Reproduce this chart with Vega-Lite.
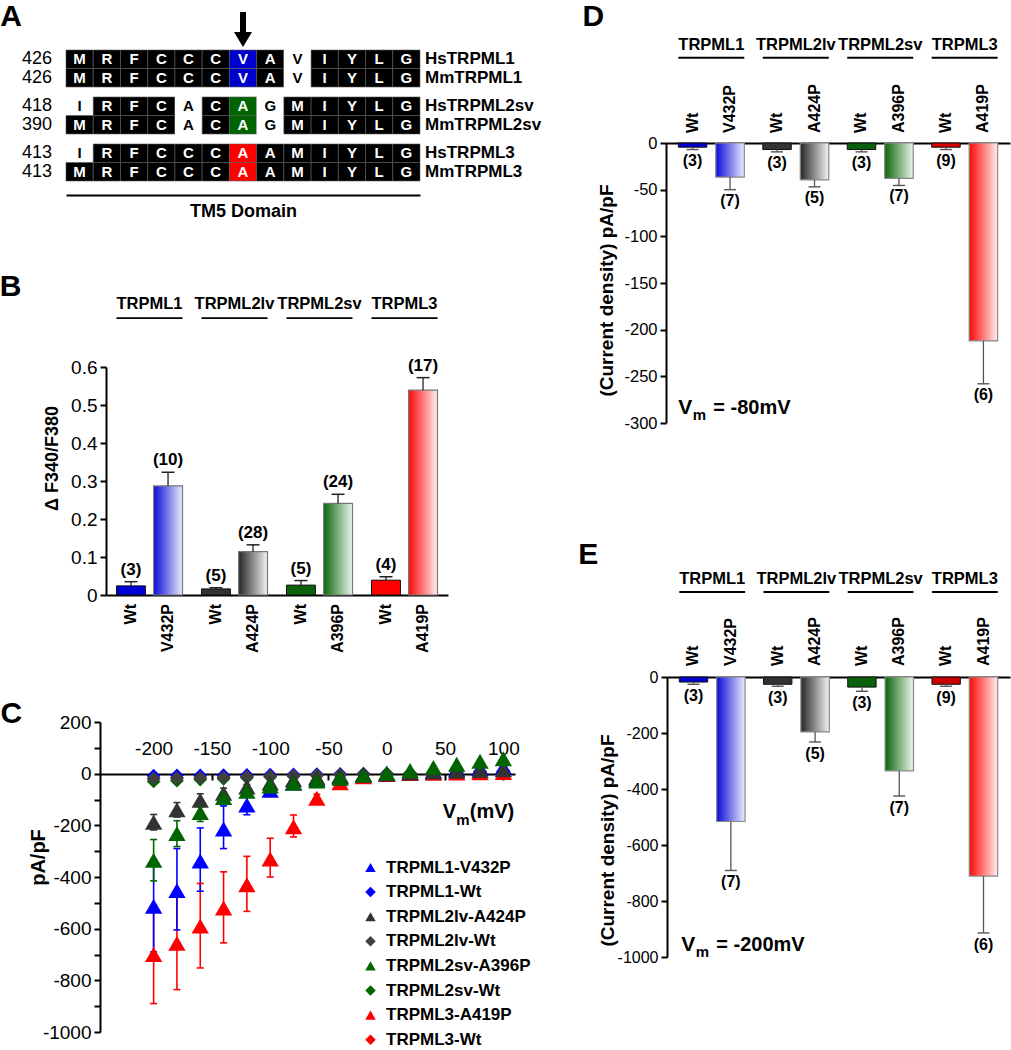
{
"$schema":"https://vega.github.io/schema/vega-lite/v6.json",
"width":1011,"height":1050,"autosize":"none","padding":0,"background":"white",
"config":{"view":{"stroke":null},"font":"Liberation Sans",
 "axis":{"grid":false,"labelOverlap":false,"labelFlush":false,"domainColor":"black","tickColor":"black","labelColor":"black","titleColor":"black"}},
"datasets":{
 "aln":[
  {"g":"TRPML1","s":"Hs","c":0,"a":"M","k":"m"},{"g":"TRPML1","s":"Hs","c":1,"a":"R","k":"m"},{"g":"TRPML1","s":"Hs","c":2,"a":"F","k":"m"},{"g":"TRPML1","s":"Hs","c":3,"a":"C","k":"m"},{"g":"TRPML1","s":"Hs","c":4,"a":"C","k":"m"},{"g":"TRPML1","s":"Hs","c":5,"a":"C","k":"m"},{"g":"TRPML1","s":"Hs","c":6,"a":"V","k":"s1"},{"g":"TRPML1","s":"Hs","c":7,"a":"A","k":"m"},{"g":"TRPML1","s":"Hs","c":8,"a":"V","k":"x"},{"g":"TRPML1","s":"Hs","c":9,"a":"I","k":"m"},{"g":"TRPML1","s":"Hs","c":10,"a":"Y","k":"m"},{"g":"TRPML1","s":"Hs","c":11,"a":"L","k":"m"},{"g":"TRPML1","s":"Hs","c":12,"a":"G","k":"m"},
  {"g":"TRPML1","s":"Mm","c":0,"a":"M","k":"m"},{"g":"TRPML1","s":"Mm","c":1,"a":"R","k":"m"},{"g":"TRPML1","s":"Mm","c":2,"a":"F","k":"m"},{"g":"TRPML1","s":"Mm","c":3,"a":"C","k":"m"},{"g":"TRPML1","s":"Mm","c":4,"a":"C","k":"m"},{"g":"TRPML1","s":"Mm","c":5,"a":"C","k":"m"},{"g":"TRPML1","s":"Mm","c":6,"a":"V","k":"s1"},{"g":"TRPML1","s":"Mm","c":7,"a":"A","k":"m"},{"g":"TRPML1","s":"Mm","c":8,"a":"V","k":"x"},{"g":"TRPML1","s":"Mm","c":9,"a":"I","k":"m"},{"g":"TRPML1","s":"Mm","c":10,"a":"Y","k":"m"},{"g":"TRPML1","s":"Mm","c":11,"a":"L","k":"m"},{"g":"TRPML1","s":"Mm","c":12,"a":"G","k":"m"},
  {"g":"TRPML2sv","s":"Hs","c":0,"a":"I","k":"x"},{"g":"TRPML2sv","s":"Hs","c":1,"a":"R","k":"m"},{"g":"TRPML2sv","s":"Hs","c":2,"a":"F","k":"m"},{"g":"TRPML2sv","s":"Hs","c":3,"a":"C","k":"m"},{"g":"TRPML2sv","s":"Hs","c":4,"a":"A","k":"x"},{"g":"TRPML2sv","s":"Hs","c":5,"a":"C","k":"m"},{"g":"TRPML2sv","s":"Hs","c":6,"a":"A","k":"s2"},{"g":"TRPML2sv","s":"Hs","c":7,"a":"G","k":"x"},{"g":"TRPML2sv","s":"Hs","c":8,"a":"M","k":"m"},{"g":"TRPML2sv","s":"Hs","c":9,"a":"I","k":"m"},{"g":"TRPML2sv","s":"Hs","c":10,"a":"Y","k":"m"},{"g":"TRPML2sv","s":"Hs","c":11,"a":"L","k":"m"},{"g":"TRPML2sv","s":"Hs","c":12,"a":"G","k":"m"},
  {"g":"TRPML2sv","s":"Mm","c":0,"a":"M","k":"m"},{"g":"TRPML2sv","s":"Mm","c":1,"a":"R","k":"m"},{"g":"TRPML2sv","s":"Mm","c":2,"a":"F","k":"m"},{"g":"TRPML2sv","s":"Mm","c":3,"a":"C","k":"m"},{"g":"TRPML2sv","s":"Mm","c":4,"a":"A","k":"x"},{"g":"TRPML2sv","s":"Mm","c":5,"a":"C","k":"m"},{"g":"TRPML2sv","s":"Mm","c":6,"a":"A","k":"s2"},{"g":"TRPML2sv","s":"Mm","c":7,"a":"G","k":"x"},{"g":"TRPML2sv","s":"Mm","c":8,"a":"M","k":"m"},{"g":"TRPML2sv","s":"Mm","c":9,"a":"I","k":"m"},{"g":"TRPML2sv","s":"Mm","c":10,"a":"Y","k":"m"},{"g":"TRPML2sv","s":"Mm","c":11,"a":"L","k":"m"},{"g":"TRPML2sv","s":"Mm","c":12,"a":"G","k":"m"},
  {"g":"TRPML3","s":"Hs","c":0,"a":"I","k":"x"},{"g":"TRPML3","s":"Hs","c":1,"a":"R","k":"m"},{"g":"TRPML3","s":"Hs","c":2,"a":"F","k":"m"},{"g":"TRPML3","s":"Hs","c":3,"a":"C","k":"m"},{"g":"TRPML3","s":"Hs","c":4,"a":"C","k":"m"},{"g":"TRPML3","s":"Hs","c":5,"a":"C","k":"m"},{"g":"TRPML3","s":"Hs","c":6,"a":"A","k":"s3"},{"g":"TRPML3","s":"Hs","c":7,"a":"A","k":"m"},{"g":"TRPML3","s":"Hs","c":8,"a":"M","k":"m"},{"g":"TRPML3","s":"Hs","c":9,"a":"I","k":"m"},{"g":"TRPML3","s":"Hs","c":10,"a":"Y","k":"m"},{"g":"TRPML3","s":"Hs","c":11,"a":"L","k":"m"},{"g":"TRPML3","s":"Hs","c":12,"a":"G","k":"m"},
  {"g":"TRPML3","s":"Mm","c":0,"a":"M","k":"m"},{"g":"TRPML3","s":"Mm","c":1,"a":"R","k":"m"},{"g":"TRPML3","s":"Mm","c":2,"a":"F","k":"m"},{"g":"TRPML3","s":"Mm","c":3,"a":"C","k":"m"},{"g":"TRPML3","s":"Mm","c":4,"a":"C","k":"m"},{"g":"TRPML3","s":"Mm","c":5,"a":"C","k":"m"},{"g":"TRPML3","s":"Mm","c":6,"a":"A","k":"s3"},{"g":"TRPML3","s":"Mm","c":7,"a":"A","k":"m"},{"g":"TRPML3","s":"Mm","c":8,"a":"M","k":"m"},{"g":"TRPML3","s":"Mm","c":9,"a":"I","k":"m"},{"g":"TRPML3","s":"Mm","c":10,"a":"Y","k":"m"},{"g":"TRPML3","s":"Mm","c":11,"a":"L","k":"m"},{"g":"TRPML3","s":"Mm","c":12,"a":"G","k":"m"}
 ],
 "alnLab":[
  {"g":"TRPML1","s":"Hs","num":"426","name":"HsTRPML1"},{"g":"TRPML1","s":"Mm","num":"426","name":"MmTRPML1"},
  {"g":"TRPML2sv","s":"Hs","num":"418","name":"HsTRPML2sv"},{"g":"TRPML2sv","s":"Mm","num":"390","name":"MmTRPML2sv"},
  {"g":"TRPML3","s":"Hs","num":"413","name":"HsTRPML3"},{"g":"TRPML3","s":"Mm","num":"413","name":"MmTRPML3"}
 ],
 "fura":[
  {"group":"TRPML1","kind":"Wt","label":"Wt","mean":0.024,"hi":0.035,"n":"(3)"},
  {"group":"TRPML1","kind":"Mut","label":"V432P","mean":0.287,"hi":0.323,"n":"(10)"},
  {"group":"TRPML2lv","kind":"Wt","label":"Wt","mean":0.016,"hi":0.019,"n":"(5)"},
  {"group":"TRPML2lv","kind":"Mut","label":"A424P","mean":0.114,"hi":0.132,"n":"(28)"},
  {"group":"TRPML2sv","kind":"Wt","label":"Wt","mean":0.026,"hi":0.038,"n":"(5)"},
  {"group":"TRPML2sv","kind":"Mut","label":"A396P","mean":0.241,"hi":0.265,"n":"(24)"},
  {"group":"TRPML3","kind":"Wt","label":"Wt","mean":0.039,"hi":0.048,"n":"(4)"},
  {"group":"TRPML3","kind":"Mut","label":"A419P","mean":0.539,"hi":0.572,"n":"(17)"}
 ],
 "d80":[
  {"group":"TRPML1","kind":"Wt","label":"Wt","mean":-4.5,"lo":-7,"n":"(3)"},
  {"group":"TRPML1","kind":"Mut","label":"V432P","mean":-36.5,"lo":-50,"n":"(7)"},
  {"group":"TRPML2lv","kind":"Wt","label":"Wt","mean":-7,"lo":-9.5,"n":"(3)"},
  {"group":"TRPML2lv","kind":"Mut","label":"A424P","mean":-39.5,"lo":-47,"n":"(5)"},
  {"group":"TRPML2sv","kind":"Wt","label":"Wt","mean":-7,"lo":-9.5,"n":"(3)"},
  {"group":"TRPML2sv","kind":"Mut","label":"A396P","mean":-38,"lo":-45.5,"n":"(7)"},
  {"group":"TRPML3","kind":"Wt","label":"Wt","mean":-4.5,"lo":-7,"n":"(9)"},
  {"group":"TRPML3","kind":"Mut","label":"A419P","mean":-212,"lo":-258,"n":"(6)"}
 ],
 "d200":[
  {"group":"TRPML1","kind":"Wt","label":"Wt","mean":-18,"lo":-26,"n":"(3)"},
  {"group":"TRPML1","kind":"Mut","label":"V432P","mean":-516,"lo":-691,"n":"(7)"},
  {"group":"TRPML2lv","kind":"Wt","label":"Wt","mean":-26,"lo":-33,"n":"(3)"},
  {"group":"TRPML2lv","kind":"Mut","label":"A424P","mean":-196,"lo":-232,"n":"(5)"},
  {"group":"TRPML2sv","kind":"Wt","label":"Wt","mean":-36,"lo":-51,"n":"(3)"},
  {"group":"TRPML2sv","kind":"Mut","label":"A396P","mean":-335,"lo":-425,"n":"(7)"},
  {"group":"TRPML3","kind":"Wt","label":"Wt","mean":-26,"lo":-33,"n":"(9)"},
  {"group":"TRPML3","kind":"Mut","label":"A419P","mean":-711,"lo":-914,"n":"(6)"}
 ],
 "iv":[
  {"ser":"TRPML3-Wt","v":-200,"i":-20},{"ser":"TRPML3-Wt","v":-180,"i":-18},{"ser":"TRPML3-Wt","v":-160,"i":-16},{"ser":"TRPML3-Wt","v":-140,"i":-14},{"ser":"TRPML3-Wt","v":-120,"i":-12},{"ser":"TRPML3-Wt","v":-100,"i":-9},{"ser":"TRPML3-Wt","v":-80,"i":-7},{"ser":"TRPML3-Wt","v":-60,"i":-5},{"ser":"TRPML3-Wt","v":-40,"i":-3},{"ser":"TRPML3-Wt","v":-20,"i":-1},{"ser":"TRPML3-Wt","v":0,"i":0},{"ser":"TRPML3-Wt","v":20,"i":1},{"ser":"TRPML3-Wt","v":40,"i":2},{"ser":"TRPML3-Wt","v":60,"i":3},{"ser":"TRPML3-Wt","v":80,"i":4},{"ser":"TRPML3-Wt","v":100,"i":5},
  {"ser":"TRPML2sv-Wt","v":-200,"i":-30},{"ser":"TRPML2sv-Wt","v":-180,"i":-27},{"ser":"TRPML2sv-Wt","v":-160,"i":-23},{"ser":"TRPML2sv-Wt","v":-140,"i":-20},{"ser":"TRPML2sv-Wt","v":-120,"i":-16},{"ser":"TRPML2sv-Wt","v":-100,"i":-13},{"ser":"TRPML2sv-Wt","v":-80,"i":-10},{"ser":"TRPML2sv-Wt","v":-60,"i":-8},{"ser":"TRPML2sv-Wt","v":-40,"i":-5},{"ser":"TRPML2sv-Wt","v":-20,"i":-2},{"ser":"TRPML2sv-Wt","v":0,"i":0},{"ser":"TRPML2sv-Wt","v":20,"i":2},{"ser":"TRPML2sv-Wt","v":40,"i":4},{"ser":"TRPML2sv-Wt","v":60,"i":6},{"ser":"TRPML2sv-Wt","v":80,"i":8},{"ser":"TRPML2sv-Wt","v":100,"i":10},
  {"ser":"TRPML1-Wt","v":-200,"i":-8},{"ser":"TRPML1-Wt","v":-180,"i":-7},{"ser":"TRPML1-Wt","v":-160,"i":-7},{"ser":"TRPML1-Wt","v":-140,"i":-6},{"ser":"TRPML1-Wt","v":-120,"i":-5},{"ser":"TRPML1-Wt","v":-100,"i":-4},{"ser":"TRPML1-Wt","v":-80,"i":-3},{"ser":"TRPML1-Wt","v":-60,"i":-2},{"ser":"TRPML1-Wt","v":-40,"i":-1},{"ser":"TRPML1-Wt","v":-20,"i":0},{"ser":"TRPML1-Wt","v":0,"i":0},{"ser":"TRPML1-Wt","v":20,"i":1},{"ser":"TRPML1-Wt","v":40,"i":2},{"ser":"TRPML1-Wt","v":60,"i":3},{"ser":"TRPML1-Wt","v":80,"i":4},{"ser":"TRPML1-Wt","v":100,"i":5},
  {"ser":"TRPML2lv-Wt","v":-200,"i":-18},{"ser":"TRPML2lv-Wt","v":-180,"i":-17},{"ser":"TRPML2lv-Wt","v":-160,"i":-15},{"ser":"TRPML2lv-Wt","v":-140,"i":-14},{"ser":"TRPML2lv-Wt","v":-120,"i":-12},{"ser":"TRPML2lv-Wt","v":-100,"i":-10},{"ser":"TRPML2lv-Wt","v":-80,"i":-8},{"ser":"TRPML2lv-Wt","v":-60,"i":-6},{"ser":"TRPML2lv-Wt","v":-40,"i":-4},{"ser":"TRPML2lv-Wt","v":-20,"i":-2},{"ser":"TRPML2lv-Wt","v":0,"i":0},{"ser":"TRPML2lv-Wt","v":20,"i":2},{"ser":"TRPML2lv-Wt","v":40,"i":4},{"ser":"TRPML2lv-Wt","v":60,"i":6},{"ser":"TRPML2lv-Wt","v":80,"i":8},{"ser":"TRPML2lv-Wt","v":100,"i":10},
  {"ser":"TRPML3-A419P","v":-200,"i":-700,"lo":-890,"hi":-510},{"ser":"TRPML3-A419P","v":-180,"i":-656,"lo":-836,"hi":-476},{"ser":"TRPML3-A419P","v":-160,"i":-590,"lo":-752,"hi":-425},{"ser":"TRPML3-A419P","v":-140,"i":-520,"lo":-655,"hi":-380},{"ser":"TRPML3-A419P","v":-120,"i":-430,"lo":-533,"hi":-320},{"ser":"TRPML3-A419P","v":-100,"i":-330,"lo":-400,"hi":-250},{"ser":"TRPML3-A419P","v":-80,"i":-205,"lo":-245,"hi":-160},{"ser":"TRPML3-A419P","v":-60,"i":-95,"lo":-110,"hi":-80},{"ser":"TRPML3-A419P","v":-40,"i":-35},{"ser":"TRPML3-A419P","v":-20,"i":-12},{"ser":"TRPML3-A419P","v":0,"i":-3},{"ser":"TRPML3-A419P","v":20,"i":1},{"ser":"TRPML3-A419P","v":40,"i":2},{"ser":"TRPML3-A419P","v":60,"i":3},{"ser":"TRPML3-A419P","v":80,"i":4},{"ser":"TRPML3-A419P","v":100,"i":5},
  {"ser":"TRPML1-V432P","v":-200,"i":-513,"lo":-690,"hi":-340},{"ser":"TRPML1-V432P","v":-180,"i":-452,"lo":-605,"hi":-290},{"ser":"TRPML1-V432P","v":-160,"i":-338,"lo":-455,"hi":-210},{"ser":"TRPML1-V432P","v":-140,"i":-214,"lo":-290,"hi":-125},{"ser":"TRPML1-V432P","v":-120,"i":-121,"lo":-159,"hi":-83},{"ser":"TRPML1-V432P","v":-100,"i":-64,"lo":-85,"hi":-43},{"ser":"TRPML1-V432P","v":-80,"i":-36},{"ser":"TRPML1-V432P","v":-60,"i":-22},{"ser":"TRPML1-V432P","v":-40,"i":-12},{"ser":"TRPML1-V432P","v":-20,"i":-5},{"ser":"TRPML1-V432P","v":0,"i":0},{"ser":"TRPML1-V432P","v":20,"i":5},{"ser":"TRPML1-V432P","v":40,"i":10},{"ser":"TRPML1-V432P","v":60,"i":15},{"ser":"TRPML1-V432P","v":80,"i":20},{"ser":"TRPML1-V432P","v":100,"i":25},
  {"ser":"TRPML2lv-A424P","v":-200,"i":-188,"lo":-218,"hi":-158},{"ser":"TRPML2lv-A424P","v":-180,"i":-140,"lo":-168,"hi":-112},{"ser":"TRPML2lv-A424P","v":-160,"i":-103,"lo":-128,"hi":-78},{"ser":"TRPML2lv-A424P","v":-140,"i":-76,"lo":-96,"hi":-56},{"ser":"TRPML2lv-A424P","v":-120,"i":-52,"lo":-62,"hi":-42},{"ser":"TRPML2lv-A424P","v":-100,"i":-36},{"ser":"TRPML2lv-A424P","v":-80,"i":-24},{"ser":"TRPML2lv-A424P","v":-60,"i":-15},{"ser":"TRPML2lv-A424P","v":-40,"i":-8},{"ser":"TRPML2lv-A424P","v":-20,"i":-3},{"ser":"TRPML2lv-A424P","v":0,"i":0},{"ser":"TRPML2lv-A424P","v":20,"i":3},{"ser":"TRPML2lv-A424P","v":40,"i":6},{"ser":"TRPML2lv-A424P","v":60,"i":9},{"ser":"TRPML2lv-A424P","v":80,"i":12},{"ser":"TRPML2lv-A424P","v":100,"i":15},
  {"ser":"TRPML2sv-A396P","v":-200,"i":-335,"lo":-415,"hi":-255},{"ser":"TRPML2sv-A396P","v":-180,"i":-232,"lo":-282,"hi":-182},{"ser":"TRPML2sv-A396P","v":-160,"i":-150,"lo":-185,"hi":-115},{"ser":"TRPML2sv-A396P","v":-140,"i":-92,"lo":-112,"hi":-72},{"ser":"TRPML2sv-A396P","v":-120,"i":-68,"lo":-80,"hi":-56},{"ser":"TRPML2sv-A396P","v":-100,"i":-48,"lo":-56,"hi":-40},{"ser":"TRPML2sv-A396P","v":-80,"i":-37},{"ser":"TRPML2sv-A396P","v":-60,"i":-28},{"ser":"TRPML2sv-A396P","v":-40,"i":-18},{"ser":"TRPML2sv-A396P","v":-20,"i":-6},{"ser":"TRPML2sv-A396P","v":0,"i":3},{"ser":"TRPML2sv-A396P","v":20,"i":12},{"ser":"TRPML2sv-A396P","v":40,"i":24},{"ser":"TRPML2sv-A396P","v":60,"i":36},{"ser":"TRPML2sv-A396P","v":80,"i":48},{"ser":"TRPML2sv-A396P","v":100,"i":58}
 ]
},
"resolve":{"scale":{"x":"independent","y":"independent","xOffset":"independent","yOffset":"independent","color":"independent","fill":"independent","shape":"independent"}},
"layer":[
 {
  "data":{"name":"aln"},
  "encoding":{
   "x":{"field":"c","type":"ordinal","scale":{"domain":[0,1,2,3,4,5,6,7,8,9,10,11,12],"range":[66,420],"paddingInner":0,"paddingOuter":0},
        "axis":{"orient":"bottom","offset":-855,"labels":false,"ticks":false,"domainWidth":2.2,"title":"TM5 Domain","titleFontSize":18,"titleFontWeight":"bold","titlePadding":7}},
   "y":{"field":"g","type":"nominal","scale":{"domain":["TRPML1","TRPML2sv","TRPML3"],"range":[50,181],"paddingInner":0.212,"paddingOuter":0},"axis":null}
  },
  "layer":[
   {"mark":{"type":"rect","stroke":"#5a5a5a","strokeWidth":0.6},
    "encoding":{"yOffset":{"field":"s","type":"nominal","scale":{"domain":["Hs","Mm"],"paddingInner":0,"paddingOuter":0}},
     "fill":{"field":"k","type":"nominal","scale":{"domain":["m","x","s1","s2","s3"],"range":["#000000","#ffffff","#0000cc","#006400","#ff0000"]},"legend":null},
     "strokeOpacity":{"condition":{"test":"datum.k === 'x'","value":0},"value":1}}},
   {"mark":{"type":"text","fontWeight":"bold","fontSize":15,"baseline":"middle"},
    "encoding":{"yOffset":{"field":"s","type":"nominal","scale":{"domain":["Hs","Mm"],"paddingInner":0,"paddingOuter":0}},
     "text":{"field":"a"},
     "color":{"condition":{"test":"datum.k === 'x'","value":"#000000"},"value":"#ffffff"}}},
   {"data":{"name":"alnLab"},"mark":{"type":"text","fontSize":18,"align":"right","baseline":"middle","dx":-14},
    "encoding":{"x":{"datum":0,"type":"ordinal","bandPosition":0},
     "yOffset":{"field":"s","type":"nominal","scale":{"domain":["Hs","Mm"],"paddingInner":0,"paddingOuter":0}},
     "text":{"field":"num"}}},
   {"data":{"name":"alnLab"},"mark":{"type":"text","fontSize":17,"fontWeight":"bold","align":"left","baseline":"middle","dx":5},
    "encoding":{"x":{"datum":12,"type":"ordinal","bandPosition":1},
     "yOffset":{"field":"s","type":"nominal","scale":{"domain":["Hs","Mm"],"paddingInner":0,"paddingOuter":0}},
     "text":{"field":"name"}}},
   {"data":{"values":[{"t":"arrow"}]},
    "mark":{"type":"point","shape":"M-0.15,-1.9L0.15,-1.9L0.15,-0.9L0.45,-0.9L0,-0.15L-0.45,-0.9L-0.15,-0.9Z","size":1600,"filled":true,"color":"black","opacity":1,"strokeWidth":0},
    "encoding":{"x":{"datum":6,"type":"ordinal"},"y":{"datum":"TRPML1","type":"nominal","bandPosition":0}}},
   {"data":{"values":[{"t":"A"}]},"mark":{"type":"text","fontSize":30,"fontWeight":"bold","baseline":"middle","dx":-55,"dy":-33},
    "encoding":{"x":{"datum":0,"type":"ordinal","bandPosition":0},"y":{"datum":"TRPML1","type":"nominal","bandPosition":0},"text":{"field":"t"}}}
  ]
 },
 {
  "data":{"name":"fura"},
  "encoding":{
   "x":{"field":"group","type":"nominal","scale":{"domain":["TRPML1","TRPML2lv","TRPML2sv","TRPML3"],"range":[106,448],"paddingInner":0.2235,"paddingOuter":0.1235},
        "axis":{"orient":"bottom","offset":-455,"labels":false,"ticks":false,"title":null,"domainWidth":2}},
   "y":{"field":"mean","type":"quantitative","scale":{"domain":[0,0.6],"range":[595,367],"nice":false,"zero":false},
        "axis":{"orient":"left","offset":-106,"values":[0,0.1,0.2,0.3,0.4,0.5,0.6],"format":".1~f","labelFontSize":19,"tickSize":6,"tickWidth":2,"domainWidth":2,"labelPadding":3,
                "title":"Δ F340/F380","titleFontSize":18,"titleFontWeight":"bold","titleAngle":270,"titleBaseline":"bottom","titleX":-45,"titleY":458}}
  },
  "layer":[
   {"transform":[{"filter":"datum.kind === 'Wt'"}],"mark":{"type":"bar","stroke":"#111111","strokeWidth":1},
    "encoding":{"xOffset":{"field":"kind","type":"nominal","scale":{"domain":["Wt","Mut"],"paddingInner":0.22,"paddingOuter":0}},
     "fill":{"field":"group","type":"nominal","scale":{"domain":["TRPML1","TRPML2lv","TRPML2sv","TRPML3"],"range":["#0000d8","#333333","#0b600b","#ff0000"]},"legend":null}}},
   {"transform":[{"filter":"datum.kind === 'Mut'"}],"mark":{"type":"bar","stroke":"#777777","strokeWidth":1.2},
    "encoding":{"xOffset":{"field":"kind","type":"nominal","scale":{"domain":["Wt","Mut"],"paddingInner":0.22,"paddingOuter":0}},
     "fill":{"condition":[
       {"test":"datum.group === 'TRPML1'","value":{"gradient":"linear","x1":0,"y1":0,"x2":1,"y2":0,"stops":[{"offset":0,"color":"#0a0ad8"},{"offset":1,"color":"#ececff"}]}},
       {"test":"datum.group === 'TRPML2lv'","value":{"gradient":"linear","x1":0,"y1":0,"x2":1,"y2":0,"stops":[{"offset":0,"color":"#262626"},{"offset":1,"color":"#f4f4f4"}]}},
       {"test":"datum.group === 'TRPML2sv'","value":{"gradient":"linear","x1":0,"y1":0,"x2":1,"y2":0,"stops":[{"offset":0,"color":"#0b660b"},{"offset":1,"color":"#edf6ed"}]}}],
      "value":{"gradient":"linear","x1":0,"y1":0,"x2":1,"y2":0,"stops":[{"offset":0,"color":"#ff0808"},{"offset":1,"color":"#ffeeee"}]}}}},
   {"mark":{"type":"rule","color":"#222222","strokeWidth":1.3},
    "encoding":{"xOffset":{"field":"kind","type":"nominal","scale":{"domain":["Wt","Mut"],"paddingInner":0.22,"paddingOuter":0}},"y2":{"field":"hi"}}},
   {"mark":{"type":"tick","orient":"horizontal","color":"#222222","thickness":1.5,"size":13,"opacity":1},
    "encoding":{"xOffset":{"field":"kind","type":"nominal","scale":{"domain":["Wt","Mut"],"paddingInner":0.22,"paddingOuter":0}},"y":{"field":"hi","type":"quantitative"}}},
   {"mark":{"type":"text","fontWeight":"bold","fontSize":17,"dy":-12,"baseline":"middle"},
    "encoding":{"xOffset":{"field":"kind","type":"nominal","scale":{"domain":["Wt","Mut"],"paddingInner":0.22,"paddingOuter":0}},"y":{"field":"hi","type":"quantitative"},"text":{"field":"n"}}},
   {"mark":{"type":"text","fontWeight":"bold","fontSize":16,"angle":270,"align":"right","baseline":"middle","dx":-9},
    "encoding":{"xOffset":{"field":"kind","type":"nominal","scale":{"domain":["Wt","Mut"],"paddingInner":0.22,"paddingOuter":0}},"y":{"datum":0},"text":{"field":"label"}}},
   {"transform":[{"filter":"datum.kind === 'Wt'"}],"mark":{"type":"text","fontWeight":"bold","fontSize":16.5,"baseline":"middle"},
    "encoding":{"y":{"datum":0.767},"text":{"field":"group"}}},
   {"transform":[{"filter":"datum.kind === 'Wt'"}],"mark":{"type":"rect","fill":"black"},
    "encoding":{"y":{"datum":0.731},"y2":{"datum":0.726}}},
   {"transform":[{"filter":"datum.group === 'TRPML1' && datum.kind === 'Wt'"}],"mark":{"type":"text","fontWeight":"bold","fontSize":30,"baseline":"middle","dx":-106},
    "encoding":{"x":{"datum":"TRPML1","type":"nominal","bandPosition":0},"y":{"datum":0.81},"text":{"value":"B"}}}
  ]
 },
 {
  "data":{"name":"iv"},
  "encoding":{
   "x":{"field":"v","type":"quantitative","scale":{"domain":[-246,110],"range":[100,515],"nice":false,"zero":false},
        "axis":{"orient":"top","offset":-774,"values":[-200,-150,-100,-50,0,50,100],"labelExpr":"'' + datum.value","tickSize":-6,"tickWidth":2,"domainWidth":2,"labelPadding":22,"labelFontSize":19,"title":null}},
   "y":{"field":"i","type":"quantitative","scale":{"domain":[-1000,200],"range":[1032,722],"nice":false,"zero":false},
        "axis":{"orient":"left","offset":-100,"values":[-1000,-900,-800,-700,-600,-500,-400,-300,-200,-100,0,100,200],"labelExpr":"datum.value % 200 === 0 ? '' + datum.value : ''","tickSize":6,"tickWidth":2,"domainWidth":2,"labelPadding":3,"labelFontSize":19,
                "title":"pA/pF","titleFontSize":20,"titleFontWeight":"bold","titleAngle":270,"titleBaseline":"bottom","titleX":-52,"titleY":857}},
   "color":{"field":"ser","type":"nominal",
     "scale":{"domain":["TRPML1-V432P","TRPML1-Wt","TRPML2lv-A424P","TRPML2lv-Wt","TRPML2sv-A396P","TRPML2sv-Wt","TRPML3-A419P","TRPML3-Wt"],"range":["#0000ff","#0000ff","#333333","#404040","#006400","#006400","#ff0000","#ff0000"]},
     "legend":{"orient":"none","legendX":362,"legendY":859,"title":null,"labelFontSize":17,"labelFontWeight":"bold","labelColor":"black","symbolSize":110,"rowPadding":6.6,"labelOffset":7,"padding":0,"symbolStrokeWidth":0}}
  },
  "layer":[
   {"transform":[{"filter":"isValid(datum.lo)"}],"mark":{"type":"rule","strokeWidth":1.6},
    "encoding":{"y":{"field":"lo","type":"quantitative"},"y2":{"field":"hi"}}},
   {"transform":[{"filter":"isValid(datum.lo)"}],"mark":{"type":"tick","orient":"horizontal","thickness":1.6,"size":7,"opacity":1},
    "encoding":{"y":{"field":"lo","type":"quantitative"}}},
   {"transform":[{"filter":"isValid(datum.hi)"}],"mark":{"type":"tick","orient":"horizontal","thickness":1.6,"size":7,"opacity":1},
    "encoding":{"y":{"field":"hi","type":"quantitative"}}},
   {"mark":{"type":"point","filled":true,"opacity":1,"strokeWidth":0},
    "encoding":{
     "shape":{"field":"ser","type":"nominal",
       "scale":{"domain":["TRPML1-V432P","TRPML1-Wt","TRPML2lv-A424P","TRPML2lv-Wt","TRPML2sv-A396P","TRPML2sv-Wt","TRPML3-A419P","TRPML3-Wt"],"range":["triangle-up","diamond","triangle-up","diamond","triangle-up","diamond","triangle-up","diamond"]},
       "legend":{"orient":"none","legendX":362,"legendY":859,"title":null,"labelFontSize":17,"labelFontWeight":"bold","labelColor":"black","symbolSize":110,"rowPadding":6.6,"labelOffset":7,"padding":0,"symbolStrokeWidth":0}},
     "size":{"condition":{"test":"indexof(datum.ser, 'Wt') >= 0","value":190},"value":300}}},
   {"transform":[{"filter":"datum.ser === 'TRPML1-Wt' && datum.v === 0"}],"mark":{"type":"text","fontWeight":"bold","fontSize":20,"align":"left","baseline":"middle"},
    "encoding":{"x":{"datum":48},"y":{"datum":-147},"text":{"value":"V"},"color":{"value":"black"}}},
   {"transform":[{"filter":"datum.ser === 'TRPML1-Wt' && datum.v === 0"}],"mark":{"type":"text","fontWeight":"bold","fontSize":15,"align":"left","baseline":"middle","dx":13.5,"dy":8},
    "encoding":{"x":{"datum":48},"y":{"datum":-147},"text":{"value":"m"},"color":{"value":"black"}}},
   {"transform":[{"filter":"datum.ser === 'TRPML1-Wt' && datum.v === 0"}],"mark":{"type":"text","fontWeight":"bold","fontSize":20,"align":"left","baseline":"middle","dx":27},
    "encoding":{"x":{"datum":48},"y":{"datum":-147},"text":{"value":"(mV)"},"color":{"value":"black"}}},
   {"transform":[{"filter":"datum.ser === 'TRPML1-Wt' && datum.v === 0"}],"mark":{"type":"text","fontWeight":"bold","fontSize":30,"baseline":"middle"},
    "encoding":{"x":{"datum":-322},"y":{"datum":231},"text":{"value":"C"},"color":{"value":"black"}}}
  ]
 },
 {
  "data":{"name":"d80"},
  "encoding":{
   "x":{"field":"group","type":"nominal","scale":{"domain":["TRPML1","TRPML2lv","TRPML2sv","TRPML3"],"range":[666,1010],"paddingInner":0.219,"paddingOuter":0.146},
        "axis":{"orient":"top","offset":-143,"labels":false,"ticks":false,"title":null,"domainWidth":2}},
   "y":{"field":"mean","type":"quantitative","scale":{"domain":[-300,0],"range":[423,143],"nice":false,"zero":false},
        "axis":{"orient":"left","offset":-666,"values":[-300,-250,-200,-150,-100,-50,0],"labelExpr":"'' + datum.value","labelFontSize":16.5,"tickSize":6,"tickWidth":2,"domainWidth":2,"labelPadding":3,
                "title":"(Current density) pA/pF","titleFontSize":19,"titleFontWeight":"bold","titleAngle":270,"titleBaseline":"bottom","titleX":-50,"titleY":290}}
  },
  "layer":[
   {"transform":[{"filter":"datum.kind === 'Wt'"}],"mark":{"type":"bar","stroke":"#111111","strokeWidth":1},
    "encoding":{"xOffset":{"field":"kind","type":"nominal","scale":{"domain":["Wt","Mut"],"paddingInner":0.24,"paddingOuter":0}},
     "fill":{"field":"group","type":"nominal","scale":{"domain":["TRPML1","TRPML2lv","TRPML2sv","TRPML3"],"range":["#0000d0","#333333","#0b600b","#dd0000"]},"legend":null}}},
   {"transform":[{"filter":"datum.kind === 'Mut'"}],"mark":{"type":"bar","stroke":"#888888","strokeWidth":1.2},
    "encoding":{"xOffset":{"field":"kind","type":"nominal","scale":{"domain":["Wt","Mut"],"paddingInner":0.24,"paddingOuter":0}},
     "fill":{"condition":[
       {"test":"datum.group === 'TRPML1'","value":{"gradient":"linear","x1":0,"y1":0,"x2":1,"y2":0,"stops":[{"offset":0,"color":"#0a0ad8"},{"offset":1,"color":"#ececff"}]}},
       {"test":"datum.group === 'TRPML2lv'","value":{"gradient":"linear","x1":0,"y1":0,"x2":1,"y2":0,"stops":[{"offset":0,"color":"#262626"},{"offset":1,"color":"#f4f4f4"}]}},
       {"test":"datum.group === 'TRPML2sv'","value":{"gradient":"linear","x1":0,"y1":0,"x2":1,"y2":0,"stops":[{"offset":0,"color":"#0b660b"},{"offset":1,"color":"#edf6ed"}]}}],
      "value":{"gradient":"linear","x1":0,"y1":0,"x2":1,"y2":0,"stops":[{"offset":0,"color":"#ff0808"},{"offset":1,"color":"#ffeeee"}]}}}},
   {"mark":{"type":"rule","color":"#555555","strokeWidth":1.3},
    "encoding":{"xOffset":{"field":"kind","type":"nominal","scale":{"domain":["Wt","Mut"],"paddingInner":0.24,"paddingOuter":0}},"y2":{"field":"lo"}}},
   {"mark":{"type":"tick","orient":"horizontal","color":"#555555","thickness":1.4,"size":12,"opacity":1},
    "encoding":{"xOffset":{"field":"kind","type":"nominal","scale":{"domain":["Wt","Mut"],"paddingInner":0.24,"paddingOuter":0}},"y":{"field":"lo","type":"quantitative"}}},
   {"mark":{"type":"text","fontWeight":"bold","fontSize":16,"dy":11,"baseline":"middle"},
    "encoding":{"xOffset":{"field":"kind","type":"nominal","scale":{"domain":["Wt","Mut"],"paddingInner":0.24,"paddingOuter":0}},"y":{"field":"lo","type":"quantitative"},"text":{"field":"n"}}},
   {"mark":{"type":"text","fontWeight":"bold","fontSize":16,"angle":270,"align":"left","baseline":"middle","dx":10},
    "encoding":{"xOffset":{"field":"kind","type":"nominal","scale":{"domain":["Wt","Mut"],"paddingInner":0.24,"paddingOuter":0}},"y":{"datum":0},"text":{"field":"label"}}},
   {"transform":[{"filter":"datum.kind === 'Wt'"}],"mark":{"type":"text","fontWeight":"bold","fontSize":16.5,"baseline":"middle"},
    "encoding":{"y":{"datum":104.7},"text":{"field":"group"}}},
   {"transform":[{"filter":"datum.kind === 'Wt'"}],"mark":{"type":"rect","fill":"black"},
    "encoding":{"y":{"datum":92.5},"y2":{"datum":90.3}}},
   {"transform":[{"filter":"datum.group === 'TRPML1' && datum.kind === 'Wt'"}],"mark":{"type":"text","fontWeight":"bold","fontSize":21,"align":"left","baseline":"middle"},
    "encoding":{"x":{"datum":"TRPML1","type":"nominal","bandPosition":0},"y":{"datum":-284},"text":{"value":"V"}}},
   {"transform":[{"filter":"datum.group === 'TRPML1' && datum.kind === 'Wt'"}],"mark":{"type":"text","fontWeight":"bold","fontSize":15,"align":"left","baseline":"middle","dx":14.5,"dy":7},
    "encoding":{"x":{"datum":"TRPML1","type":"nominal","bandPosition":0},"y":{"datum":-284},"text":{"value":"m"}}},
   {"transform":[{"filter":"datum.group === 'TRPML1' && datum.kind === 'Wt'"}],"mark":{"type":"text","fontWeight":"bold","fontSize":20,"align":"left","baseline":"middle","dx":35},
    "encoding":{"x":{"datum":"TRPML1","type":"nominal","bandPosition":0},"y":{"datum":-284},"text":{"value":"= -80mV"}}},
   {"transform":[{"filter":"datum.group === 'TRPML1' && datum.kind === 'Wt'"}],"mark":{"type":"text","fontWeight":"bold","fontSize":30,"baseline":"middle","dx":-85},
    "encoding":{"x":{"datum":"TRPML1","type":"nominal","bandPosition":0},"y":{"datum":134.7},"text":{"value":"D"}}}
  ]
 },
 {
  "data":{"name":"d200"},
  "encoding":{
   "x":{"field":"group","type":"nominal","scale":{"domain":["TRPML1","TRPML2lv","TRPML2sv","TRPML3"],"range":[667,1010],"paddingInner":0.219,"paddingOuter":0.146},
        "axis":{"orient":"top","offset":-677,"labels":false,"ticks":false,"title":null,"domainWidth":2}},
   "y":{"field":"mean","type":"quantitative","scale":{"domain":[-1000,0],"range":[957,677],"nice":false,"zero":false},
        "axis":{"orient":"left","offset":-667,"values":[-1000,-800,-600,-400,-200,0],"labelExpr":"'' + datum.value","labelFontSize":16,"tickSize":6,"tickWidth":2,"domainWidth":2,"labelPadding":3,
                "title":"(Current density) pA/pF","titleFontSize":19,"titleFontWeight":"bold","titleAngle":270,"titleBaseline":"bottom","titleX":-50,"titleY":840}}
  },
  "layer":[
   {"transform":[{"filter":"datum.kind === 'Wt'"}],"mark":{"type":"bar","stroke":"#111111","strokeWidth":1},
    "encoding":{"xOffset":{"field":"kind","type":"nominal","scale":{"domain":["Wt","Mut"],"paddingInner":0.24,"paddingOuter":0}},
     "fill":{"field":"group","type":"nominal","scale":{"domain":["TRPML1","TRPML2lv","TRPML2sv","TRPML3"],"range":["#0000d0","#333333","#0b600b","#cc0000"]},"legend":null}}},
   {"transform":[{"filter":"datum.kind === 'Mut'"}],"mark":{"type":"bar","stroke":"#888888","strokeWidth":1.2},
    "encoding":{"xOffset":{"field":"kind","type":"nominal","scale":{"domain":["Wt","Mut"],"paddingInner":0.24,"paddingOuter":0}},
     "fill":{"condition":[
       {"test":"datum.group === 'TRPML1'","value":{"gradient":"linear","x1":0,"y1":0,"x2":1,"y2":0,"stops":[{"offset":0,"color":"#0a0ad8"},{"offset":1,"color":"#ececff"}]}},
       {"test":"datum.group === 'TRPML2lv'","value":{"gradient":"linear","x1":0,"y1":0,"x2":1,"y2":0,"stops":[{"offset":0,"color":"#262626"},{"offset":1,"color":"#f4f4f4"}]}},
       {"test":"datum.group === 'TRPML2sv'","value":{"gradient":"linear","x1":0,"y1":0,"x2":1,"y2":0,"stops":[{"offset":0,"color":"#0b660b"},{"offset":1,"color":"#edf6ed"}]}}],
      "value":{"gradient":"linear","x1":0,"y1":0,"x2":1,"y2":0,"stops":[{"offset":0,"color":"#ff0808"},{"offset":1,"color":"#ffeeee"}]}}}},
   {"mark":{"type":"rule","color":"#555555","strokeWidth":1.3},
    "encoding":{"xOffset":{"field":"kind","type":"nominal","scale":{"domain":["Wt","Mut"],"paddingInner":0.24,"paddingOuter":0}},"y2":{"field":"lo"}}},
   {"mark":{"type":"tick","orient":"horizontal","color":"#555555","thickness":1.4,"size":12,"opacity":1},
    "encoding":{"xOffset":{"field":"kind","type":"nominal","scale":{"domain":["Wt","Mut"],"paddingInner":0.24,"paddingOuter":0}},"y":{"field":"lo","type":"quantitative"}}},
   {"mark":{"type":"text","fontWeight":"bold","fontSize":16,"dy":12,"baseline":"middle"},
    "encoding":{"xOffset":{"field":"kind","type":"nominal","scale":{"domain":["Wt","Mut"],"paddingInner":0.24,"paddingOuter":0}},"y":{"field":"lo","type":"quantitative"},"text":{"field":"n"}}},
   {"mark":{"type":"text","fontWeight":"bold","fontSize":16,"angle":270,"align":"left","baseline":"middle","dx":11},
    "encoding":{"xOffset":{"field":"kind","type":"nominal","scale":{"domain":["Wt","Mut"],"paddingInner":0.24,"paddingOuter":0}},"y":{"datum":0},"text":{"field":"label"}}},
   {"transform":[{"filter":"datum.kind === 'Wt'"}],"mark":{"type":"text","fontWeight":"bold","fontSize":16.5,"baseline":"middle"},
    "encoding":{"y":{"datum":351},"text":{"field":"group"}}},
   {"transform":[{"filter":"datum.kind === 'Wt'"}],"mark":{"type":"rect","fill":"black"},
    "encoding":{"y":{"datum":307},"y2":{"datum":300}}},
   {"transform":[{"filter":"datum.group === 'TRPML1' && datum.kind === 'Wt'"}],"mark":{"type":"text","fontWeight":"bold","fontSize":21,"align":"left","baseline":"middle","dx":2},
    "encoding":{"x":{"datum":"TRPML1","type":"nominal","bandPosition":0},"y":{"datum":-958},"text":{"value":"V"}}},
   {"transform":[{"filter":"datum.group === 'TRPML1' && datum.kind === 'Wt'"}],"mark":{"type":"text","fontWeight":"bold","fontSize":15,"align":"left","baseline":"middle","dx":16.5,"dy":7},
    "encoding":{"x":{"datum":"TRPML1","type":"nominal","bandPosition":0},"y":{"datum":-958},"text":{"value":"m"}}},
   {"transform":[{"filter":"datum.group === 'TRPML1' && datum.kind === 'Wt'"}],"mark":{"type":"text","fontWeight":"bold","fontSize":20,"align":"left","baseline":"middle","dx":37},
    "encoding":{"x":{"datum":"TRPML1","type":"nominal","bandPosition":0},"y":{"datum":-958},"text":{"value":"= -200mV"}}},
   {"transform":[{"filter":"datum.group === 'TRPML1' && datum.kind === 'Wt'"}],"mark":{"type":"text","fontWeight":"bold","fontSize":30,"baseline":"middle","dx":-91},
    "encoding":{"x":{"datum":"TRPML1","type":"nominal","bandPosition":0},"y":{"datum":434.6},"text":{"value":"E"}}}
  ]
 }
]
}
